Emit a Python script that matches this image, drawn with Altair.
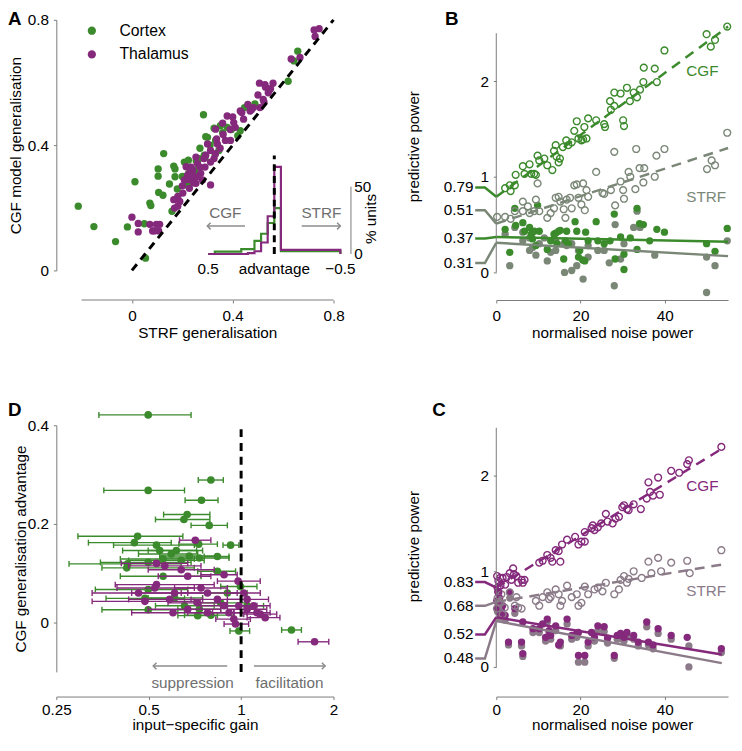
import altair as alt
import pandas as pd

FONT = "Liberation Sans"
GREEN = "#3b8a2c"
PURPLE = "#84297b"
GRAY_B = "#7a8777"
GRAY_C = "#8b7b89"
AXIS = "#7a7a7a"
NOTE = "#6e6e6e"
ARROW = "#8c8c8c"

# ---------------- Panel A : generalisation (STRF, CGF) ----------------
cortex_pts = [(-0.213, 0.205), (-0.151, 0.140), (-0.065, 0.092), (-0.018, 0.139), (0.054, 0.039),
              (0.049, 0.149), (0.012, 0.283), (0.071, 0.215), (0.075, 0.207), (0.104, 0.324),
              (0.104, 0.301), (0.106, 0.249), (0.123, 0.240), (0.126, 0.373), (0.149, 0.276),
              (0.166, 0.333), (0.171, 0.324), (0.171, 0.299), (0.159, 0.189), (0.284, 0.497),
              (0.208, 0.346), (0.224, 0.352), (0.293, 0.427), (0.326, 0.454), (0.332, 0.415),
              (0.378, 0.457), (0.267, 0.357), (0.287, 0.368), (0.215, 0.273), (0.430, 0.446),
              (0.447, 0.520), (0.488, 0.532), (0.658, 0.700), (0.643, 0.669), (0.620, 0.604),
              (0.351, 0.462), (0.300, 0.425), (0.345, 0.383), (0.250, 0.320), (0.270, 0.390),
              (0.310, 0.400), (0.360, 0.440), (0.395, 0.450), (0.225, 0.310), (0.235, 0.280),
              (0.180, 0.260), (0.200, 0.300), (0.420, 0.430), (0.290, 0.360), (0.255, 0.350),
              (0.330, 0.370)]
thal_pts = [(0.723, 0.768), (0.743, 0.772), (0.727, 0.747), (0.632, 0.675), (0.667, 0.680),
            (0.506, 0.598), (0.528, 0.593), (0.560, 0.598), (0.545, 0.575), (0.541, 0.567),
            (0.524, 0.538), (0.475, 0.514), (0.508, 0.520), (0.430, 0.509), (0.443, 0.483),
            (0.378, 0.493), (0.404, 0.472), (0.410, 0.457), (0.371, 0.415), (0.391, 0.415),
            (0.332, 0.451), (0.336, 0.420), (0.312, 0.383), (0.293, 0.368), (0.254, 0.362),
            (0.326, 0.357), (0.436, 0.504), (0.469, 0.509), (0.521, 0.546), (0.482, 0.520),
            (0.362, 0.434), (0.339, 0.404), (0.300, 0.404), (0.332, 0.373), (0.286, 0.357),
            (0.312, 0.346), (0.260, 0.341), (0.241, 0.320), (0.221, 0.304), (0.247, 0.299),
            (0.208, 0.289), (0.273, 0.310), (0.280, 0.289), (0.312, 0.273), (0.228, 0.262),
            (0.202, 0.247), (0.182, 0.236), (0.166, 0.226), (0.169, 0.199), (0.000, 0.170),
            (0.025, 0.150), (0.025, 0.123), (0.071, 0.147), (0.082, 0.126), (0.110, 0.147),
            (0.106, 0.126), (0.097, 0.147), (0.088, 0.126), (0.182, 0.205), (0.215, 0.331),
            (0.228, 0.310), (0.260, 0.299), (0.254, 0.278), (0.235, 0.330), (0.245, 0.280),
            (0.190, 0.220), (0.200, 0.270), (0.350, 0.390), (0.290, 0.330), (0.270, 0.330),
            (0.390, 0.450), (0.360, 0.470), (0.400, 0.490), (0.460, 0.530), (0.500, 0.560),
            (0.530, 0.585), (0.550, 0.580), (0.225, 0.290), (0.240, 0.305)]

# inset histogram of CGF advantage (% units), bin lower edges
hist_edges = [-0.50, -0.05, 0.00, 0.05, 0.10, 0.15, 0.20, 0.25, 0.30, 0.35, 0.40, 0.45, 0.50]
cortex_pct = [0, 2.0, 34.0, 23.0, 15.0, 9.7, 3.6, 3.6, 1.7, 1.7, 1.7, 1.7, 0]
thal_pct = [0, 3.0, 64.6, 28.0, 8.5, 2.0, 0.6, 0, 0, 0, 0, 0, 0]

# ---------------- Panel B : cortex predictive power ----------------
b_cgf_open = [(2.1, 0.88), (3.2, 0.91), (4.4, 0.91), (3.4, 0.85), (4.6, 1.02), (6.7, 1.03), (6.3, 1.11),
              (7.9, 1.13), (8.3, 1.03), (9.4, 1.02), (9.0, 1.03), (9.8, 1.22), (10.2, 1.17), (11.4, 1.19),
              (12.1, 1.12), (13.3, 1.07), (13.7, 1.27), (14.1, 1.33), (14.3, 1.21), (15.1, 1.19),
              (14.8, 1.15), (15.8, 1.31), (16.6, 1.38), (17.1, 1.33), (17.9, 1.36), (18.5, 1.48),
              (19.1, 1.58), (19.5, 1.40), (20.2, 1.38), (20.6, 1.39), (21.4, 1.40), (20.9, 1.52),
              (21.8, 1.61), (23.7, 1.59), (25.6, 1.55), (25.8, 1.52), (27.0, 1.79), (27.2, 1.70),
              (28.0, 1.74), (28.0, 1.88), (29.5, 1.87), (30.1, 1.59), (30.3, 1.53), (31.0, 1.93),
              (31.7, 1.79), (32.6, 1.88), (33.4, 1.83), (34.1, 1.91), (34.9, 1.99), (35.0, 2.14),
              (37.6, 2.13), (38.1, 1.99), (39.9, 2.32), (49.9, 2.49), (50.9, 2.36), (51.9, 2.43),
              (54.8, 2.57)]
b_strf_open = [(0.2, 0.58), (2.1, 0.58), (3.4, 0.56), (4.4, 0.64), (6.3, 0.74), (6.3, 0.64), (7.5, 0.69),
               (7.9, 0.62), (9.0, 0.64), (9.4, 0.76), (9.8, 0.93), (10.2, 0.64), (12.1, 0.57), (12.9, 0.62),
               (13.7, 0.67), (14.1, 0.78), (14.8, 0.79), (15.2, 0.74), (16.0, 0.66), (16.4, 0.57),
               (16.7, 0.76), (17.5, 0.78), (17.9, 0.67), (18.5, 0.91), (19.1, 0.92), (19.5, 0.78),
               (20.2, 0.71), (20.6, 0.93), (21.0, 0.65), (21.4, 0.86), (21.8, 0.79), (23.7, 1.05),
               (25.2, 0.83), (25.6, 0.82), (27.2, 0.86), (28.0, 1.26), (28.2, 0.70), (29.5, 0.95),
               (30.1, 0.86), (30.3, 0.77), (31.4, 1.05), (31.8, 1.00), (33.0, 0.87), (33.2, 1.29),
               (34.0, 1.09), (34.9, 0.94), (35.1, 1.09), (37.6, 1.00), (38.0, 1.22), (39.9, 1.29),
               (50.0, 1.08), (51.1, 1.17), (51.9, 1.12), (54.8, 1.46)]
b_cgf_fill = [(2.1, 0.45), (3.2, 0.21), (4.4, 0.67), (4.6, 0.49), (6.3, 0.52), (6.7, 0.43), (7.9, 0.47),
              (8.3, 0.40), (8.6, 0.35), (9.0, 0.43), (9.4, 0.28), (9.8, 0.70), (10.2, 0.43), (12.1, 0.24),
              (12.9, 0.33), (13.7, 0.40), (14.1, 0.41), (14.4, 0.30), (14.8, 0.43), (15.2, 0.44),
              (16.0, 0.14), (16.4, 0.33), (16.7, 0.43), (17.1, 0.30), (18.7, 0.53), (19.1, 0.43),
              (19.5, 0.16), (19.8, 0.23), (20.5, 0.13), (21.0, 0.12), (21.2, 0.42), (21.8, 0.33),
              (23.7, 0.53), (24.1, 0.33), (25.6, 0.30), (27.0, 0.33), (28.0, 0.61), (28.2, 0.14),
              (29.5, 0.37), (30.3, 0.03), (30.3, 0.19), (31.8, 0.36), (33.4, 0.67), (33.4, 0.24),
              (34.0, 0.51), (34.9, 0.50), (36.4, 0.33), (38.1, 0.45), (39.9, 0.42), (49.9, 0.30),
              (51.9, 0.22), (54.8, 0.46)]
b_strf_fill = [(3.2, 0.07), (6.3, 0.42), (7.9, 0.23), (9.4, 0.18), (11.4, 0.36), (12.1, 0.12), (12.9, 0.21),
               (14.1, 0.33), (16.2, 0.00), (16.7, 0.28), (17.9, 0.02), (19.1, 0.07), (19.5, 0.23),
               (20.6, -0.07), (21.8, 0.28), (24.1, 0.23), (25.6, 0.23), (26.8, 0.10), (28.0, -0.14),
               (28.2, 0.50), (29.5, 0.14), (30.3, 0.30), (32.6, 0.47), (33.4, 0.64), (34.1, 0.47),
               (37.6, 0.18), (49.9, 0.16), (51.9, 0.07), (49.9, -0.21), (54.8, 0.33), (2.1, 0.40),
               (4.4, 0.47), (7.9, 0.36), (14.1, 0.23), (17.9, 0.30), (21.8, 0.16), (10.2, 0.30),
               (6.3, 0.33), (8.6, 0.26), (16.0, 0.30)]
# fits: (x0, y0, x1, y1)
b_fit_cgf_dash = (0, 0.79, 55, 2.57)
b_fit_strf_dash = (0, 0.51, 55, 1.30)
b_fit_cgf_solid = (0, 0.37, 55, 0.32)
b_fit_strf_solid = (0, 0.31, 55, 0.17)
b_intercepts = ["0.79", "0.51", "0.37", "0.31"]
b_intercept_vals = [0.79, 0.51, 0.37, 0.31]
b_label_y = [0.887, 0.65, 0.354, 0.098]

# ---------------- Panel C : thalamus predictive power ----------------
c_cgf_open = [(0.2, 0.95), (0.5, 0.90), (0.9, 0.93), (2.1, 0.86), (3.2, 0.98), (4.0, 1.03), (3.6, 0.91),
              (4.8, 0.95), (5.2, 0.88), (6.0, 0.91), (6.7, 0.91), (6.3, 0.88), (0.3, 0.83), (0.5, 0.78),
              (1.0, 0.85), (1.5, 0.93), (2.5, 0.94), (4.2, 0.97), (10.2, 1.09), (11.0, 1.11), (12.1, 1.17),
              (12.9, 1.14), (13.3, 1.10), (14.1, 1.22), (14.8, 1.21), (15.2, 1.10), (15.6, 1.28),
              (16.8, 1.33), (18.7, 1.36), (19.5, 1.28), (20.2, 1.31), (21.0, 1.31), (21.0, 1.41),
              (22.6, 1.45), (22.9, 1.48), (23.3, 1.43), (24.1, 1.46), (24.9, 1.50), (26.0, 1.60),
              (26.4, 1.52), (27.6, 1.50), (28.3, 1.55), (29.1, 1.57), (29.9, 1.67), (30.3, 1.69),
              (31.0, 1.65), (31.4, 1.64), (32.6, 1.70), (34.3, 1.65), (35.7, 1.76), (36.1, 1.93),
              (36.5, 1.83), (37.2, 1.79), (38.4, 1.98), (38.8, 1.80), (41.5, 2.05), (43.4, 2.03),
              (45.3, 2.12), (45.7, 2.16), (53.4, 2.30)]
c_strf_open = [(0.15, 0.61), (0.9, 0.67), (3.2, 0.78), (4.4, 0.64), (5.2, 0.62), (6.0, 0.61), (10.2, 0.64),
               (11.0, 0.73), (12.1, 0.78), (12.9, 0.73), (14.1, 0.81), (14.8, 0.76), (15.2, 0.64),
               (15.6, 0.69), (16.8, 0.85), (19.1, 0.76), (19.5, 0.64), (20.2, 0.67), (21.0, 0.84),
               (23.3, 0.81), (24.1, 0.83), (25.2, 0.79), (26.0, 0.88), (28.0, 0.76), (29.1, 0.81),
               (29.5, 0.91), (30.3, 0.95), (31.0, 0.88), (31.4, 0.92), (32.6, 1.00), (34.5, 0.93),
               (36.1, 1.10), (36.8, 0.98), (38.4, 1.14), (39.1, 1.00), (41.5, 1.09), (45.3, 1.11),
               (45.9, 0.98), (53.4, 1.22), (21.8, 0.76), (17.9, 0.73), (12.5, 0.71), (9.4, 0.69),
               (0.3, 0.72), (0.6, 0.68), (1.2, 0.76), (2.0, 0.62), (1.5, 0.55), (4.8, 0.73)]
c_cgf_fill = [(0.1, 0.69), (0.9, 0.57), (2.1, 0.54), (3.2, 0.78), (4.4, 0.61), (2.9, 0.26), (6.0, 0.26),
              (6.3, 0.14), (10.2, 0.40), (11.0, 0.45), (12.1, 0.50), (12.5, 0.38), (12.9, 0.33),
              (14.1, 0.43), (15.2, 0.26), (16.8, 0.50), (19.1, 0.35), (19.5, 0.12), (21.0, 0.12),
              (21.8, 0.26), (23.3, 0.31), (24.1, 0.43), (25.6, 0.42), (26.4, 0.30), (28.0, 0.12),
              (28.7, 0.33), (29.5, 0.35), (30.3, 0.31), (31.0, 0.36), (32.6, 0.33), (35.7, 0.47),
              (36.1, 0.26), (37.2, 0.23), (38.4, 0.40), (41.5, 0.33), (45.3, 0.31), (53.4, 0.19),
              (19.5, 0.36), (22.6, 0.36), (14.8, 0.23), (6.3, 0.47), (8.7, 0.40), (11.7, 0.31),
              (17.9, 0.33), (33.7, 0.26), (0.3, 0.62), (0.5, 0.66), (0.8, 0.72), (1.2, 0.60),
              (1.5, 0.64), (0.4, 0.79)]
c_strf_fill = [(2.9, 0.23), (6.3, 0.11), (10.2, 0.36), (19.5, 0.05), (21.0, 0.05), (28.0, 0.09), (45.7, 0.00),
               (45.7, 0.22), (36.1, 0.23), (14.1, 0.38), (24.1, 0.38), (29.5, 0.30), (12.1, 0.47),
               (0.9, 0.52), (2.1, 0.49), (3.2, 0.72), (6.0, 0.22), (12.5, 0.34), (12.9, 0.29), (15.2, 0.22),
               (16.8, 0.45), (19.1, 0.31), (21.8, 0.22), (23.3, 0.27), (25.6, 0.37), (26.4, 0.25),
               (28.7, 0.29), (30.3, 0.27), (31.0, 0.32), (32.6, 0.29), (35.7, 0.42), (37.2, 0.19),
               (38.4, 0.35), (41.5, 0.29), (53.4, 0.15), (8.7, 0.36), (11.7, 0.27), (17.9, 0.29),
               (33.7, 0.22), (0.3, 0.58), (0.5, 0.62), (1.2, 0.55), (4.4, 0.56)]
c_fit_cgf_dash = (0, 0.83, 53.5, 2.28)
c_fit_strf_dash = (0, 0.68, 53.5, 1.07)
c_fit_cgf_solid = (0, 0.52, 53.5, 0.13)
c_fit_strf_solid = (0, 0.48, 53.5, 0.04)
c_intercepts = ["0.83", "0.68", "0.52", "0.48"]
c_intercept_vals = [0.83, 0.68, 0.52, 0.48]
c_label_y = [0.887, 0.639, 0.34, 0.088]

# ---------------- Panel D : gain vs CGF advantage ----------------
# (gain, gain_low, gain_high, advantage)
d_cortex = [(0.498, 0.344, 0.687, 0.421), (0.797, 0.725, 0.875, 0.289), (0.498, 0.357, 0.654, 0.268),
            (0.743, 0.657, 0.841, 0.248), (0.667, 0.559, 0.791, 0.219), (0.651, 0.526, 0.791, 0.209),
            (0.787, 0.687, 0.902, 0.197), (0.460, 0.294, 0.646, 0.175), (0.449, 0.318, 0.592, 0.162),
            (0.727, 0.627, 0.837, 0.159), (0.924, 0.873, 0.983, 0.157), (0.530, 0.384, 0.704, 0.157),
            (0.543, 0.411, 0.716, 0.146), (0.615, 0.498, 0.749, 0.146), (0.592, 0.463, 0.722, 0.139),
            (0.837, 0.758, 0.913, 0.134), (0.731, 0.550, 0.913, 0.131), (0.678, 0.543, 0.827, 0.135),
            (0.557, 0.404, 0.704, 0.129), (0.638, 0.430, 0.758, 0.126), (0.427, 0.275, 0.638, 0.119),
            (0.498, 0.348, 0.687, 0.122), (0.424, 0.352, 0.704, 0.111), (0.837, 0.722, 0.959, 0.104),
            (0.557, 0.404, 0.740, 0.094), (0.498, 0.335, 0.670, 0.067), (0.486, 0.363, 0.654, 0.049),
            (0.654, 0.526, 0.817, 0.034), (0.498, 0.352, 0.654, 0.026), (0.722, 0.622, 0.837, 0.014),
            (0.797, 0.654, 0.947, 0.015), (0.983, 0.920, 1.066, -0.017), (1.459, 1.355, 1.572, -0.015),
            (0.902, 0.777, 1.046, 0.060), (0.858, 0.704, 1.046, 0.040), (0.995, 0.858, 1.126, 0.073),
            (1.046, 0.902, 1.183, 0.034), (0.731, 0.622, 0.858, 0.027), (0.607, 0.498, 0.749, 0.050)]
d_thal = [(0.709, 0.630, 0.797, 0.167), (1.735, 1.533, 1.930, -0.039), (0.978, 0.837, 1.154, 0.084),
          (0.880, 0.740, 0.971, 0.097), (0.530, 0.407, 0.670, 0.120), (0.564, 0.430, 0.740, 0.115),
          (0.638, 0.498, 0.817, 0.107), (0.670, 0.537, 0.797, 0.094), (0.530, 0.389, 0.817, 0.077),
          (0.463, 0.327, 0.670, 0.060), (0.523, 0.394, 0.704, 0.070), (0.585, 0.430, 0.749, 0.047),
          (0.600, 0.440, 0.807, 0.020), (0.777, 0.638, 0.971, 0.060), (0.837, 0.687, 0.995, 0.047),
          (0.983, 0.858, 1.126, 0.034), (1.046, 0.902, 1.212, 0.027), (1.198, 1.046, 1.338, 0.010),
          (0.959, 0.880, 1.058, -0.003), (0.947, 0.827, 1.072, 0.007), (1.126, 0.947, 1.243, 0.020),
          (1.046, 0.902, 1.228, 0.047), (0.913, 0.777, 1.046, 0.020), (0.722, 0.578, 0.902, 0.040),
          (0.486, 0.327, 0.704, 0.043), (0.670, 0.498, 0.858, 0.027), (0.777, 0.670, 0.947, 0.020),
          (1.098, 0.971, 1.243, 0.034), (1.154, 1.020, 1.306, 0.017), (0.880, 0.740, 1.046, 0.034),
          (0.607, 0.440, 0.777, 0.060), (0.740, 0.607, 0.902, 0.070), (1.020, 0.902, 1.154, 0.060)]


# ======================= helpers =======================
# every layer of a panel gets the same axis objects (so the shared axes merge cleanly)
def xy(xs, ys, ax, xf="x", yf="y"):
    return dict(x=alt.X(f"{xf}:Q", scale=xs, axis=ax[0]), y=alt.Y(f"{yf}:Q", scale=ys, axis=ax[1]))


def scatter(pts, xs, ys, ax, color, filled, size=50):
    df = pd.DataFrame({"x": [p[0] for p in pts], "y": [p[1] for p in pts]})
    if filled:
        m = alt.Chart(df).mark_circle(size=size, color=color, opacity=1)
    else:
        m = alt.Chart(df).mark_point(size=size, color=color, filled=False, strokeWidth=1.4, opacity=1)
    return m.encode(**xy(xs, ys, ax))


def seg(fit, xs, ys, ax, color, dash=None, width=2.5):
    df = pd.DataFrame({"x": [fit[0], fit[2]], "y": [fit[1], fit[3]]})
    kw = dict(color=color, strokeWidth=width)
    if dash:
        kw["strokeDash"] = dash
    return alt.Chart(df).mark_line(**kw).encode(**xy(xs, ys, ax))


def label(xv, yv, text, xs, ys, ax, **kw):
    df = pd.DataFrame({"x": [xv], "y": [yv], "t": [text]})
    opts = dict(font=FONT, fontSize=16, color="black")
    opts.update(kw)
    return alt.Chart(df).mark_text(**opts).encode(text="t:N", **xy(xs, ys, ax))


def vrule(xv, y0, y1, xs, ys, ax, color, width=1, dash=None):
    df = pd.DataFrame({"x": [xv], "y": [y0], "y2": [y1]})
    kw = dict(color=color, strokeWidth=width)
    if dash:
        kw["strokeDash"] = dash
    return alt.Chart(df).mark_rule(**kw).encode(y2="y2:Q", **xy(xs, ys, ax))


def hrule(x0, x1, yv, xs, ys, ax, color, width=1.5):
    df = pd.DataFrame({"x": [x0], "x2": [x1], "y": [yv]})
    return alt.Chart(df).mark_rule(color=color, strokeWidth=width).encode(x2="x2:Q", **xy(xs, ys, ax))


def connector(lab, val, ly, color, xs, ys, ax):
    df = pd.DataFrame({"x": [-5.0, -2.7, 0.0], "y": [ly, ly, val]})
    line = alt.Chart(df).mark_line(color=color, strokeWidth=2.5).encode(**xy(xs, ys, ax))
    txt = label(-5.4, ly, lab, xs, ys, ax, align="right", baseline="middle", fontSize=15.5)
    return [line, txt]


def arrow(x_from, x_to, yv, xs, ys, ax, pointing, color=ARROW, size=45):
    shaft = hrule(x_from, x_to, yv, xs, ys, ax, color)
    shape = "M 1 -1 L 0 0 L 1 1" if pointing == "left" else "M -1 -1 L 0 0 L -1 1"
    hd = pd.DataFrame({"x": [x_to], "y": [yv]})
    head = alt.Chart(hd).mark_point(shape=shape, filled=False, size=size, strokeWidth=1.5,
                                    color=color, opacity=1).encode(**xy(xs, ys, ax))
    return [shaft, head]


LETTER = dict(align="left", baseline="alphabetic", fontSize=19, fontWeight="bold")

# ======================= Panel A =======================
xA = alt.Scale(domain=[-0.3, 0.8], nice=False, zero=False)
yA = alt.Scale(domain=[0, 0.8], nice=False, zero=False)
axA = (alt.Axis(values=[0, 0.4, 0.8], format="~g", domain=False, offset=30,
                title="STRF generalisation", titleX=153, labelPadding=6),
       alt.Axis(values=[0, 0.4, 0.8], format="~g", title="CGF model generalisation", titleX=-33))
dfA = pd.DataFrame({
    "x": [p[0] for p in cortex_pts] + [p[0] for p in thal_pts],
    "y": [p[1] for p in cortex_pts] + [p[1] for p in thal_pts],
    "group": ["Cortex"] * len(cortex_pts) + ["Thalamus"] * len(thal_pts),
})
a_points = alt.Chart(dfA).mark_circle(size=55, opacity=1).encode(
    color=alt.Color("group:N", scale=alt.Scale(domain=["Cortex", "Thalamus"], range=[GREEN, PURPLE]),
                    legend=alt.Legend(title=None, orient="none", legendX=28, legendY=3, symbolType="circle",
                                      symbolSize=70, labelFontSize=16, labelFont=FONT, labelOffset=20,
                                      rowPadding=8, symbolStrokeWidth=0, symbolOpacity=1)),
    **xy(xA, yA, axA))
a_diag = alt.Chart(pd.DataFrame({"x": [0, 0.8], "y": [0, 0.8]})).mark_line(
    color="black", strokeWidth=3, strokeDash=[8, 6]).encode(**xy(xA, yA, axA))
a_xaxis = hrule(-0.2, 0.8, -0.0945, xA, yA, axA, AXIS, width=1)
a_letter = label(-0.4918, 0.7843, "A", xA, yA, axA, **LETTER)
a_main = alt.layer(a_points, a_diag, a_xaxis, a_letter)

xI = alt.Scale(domain=[-0.448, 1.649], reverse=True, nice=False, zero=False)
yI = alt.Scale(domain=[-12.2, 173.7], nice=False, zero=False)
axI = (None, None)
hist_df_c = pd.DataFrame({"x": hist_edges, "y": cortex_pct})
hist_df_t = pd.DataFrame({"x": hist_edges, "y": thal_pct})
inset_layers = [
    alt.Chart(hist_df_c).mark_line(interpolate="step-after", color=GREEN, strokeWidth=2.2).encode(**xy(xI, yI, axI)),
    alt.Chart(hist_df_t).mark_line(interpolate="step-after", color=PURPLE, strokeWidth=2.2).encode(**xy(xI, yI, axI)),
    vrule(0, 0, 73, xI, yI, axI, "black", width=3, dash=[7, 5]),
    vrule(-0.58, 0, 50, xI, yI, axI, AXIS, width=1),
    label(0.371, 30.5, "CGF", xI, yI, axI, color=NOTE, baseline="middle", fontSize=15.5),
    label(-0.356, 30.5, "STRF", xI, yI, axI, color=NOTE, baseline="middle", fontSize=15.5),
    label(0.5, -11, "0.5", xI, yI, axI, baseline="middle", fontSize=15.5),
    label(-0.5, -11, "\u22120.5", xI, yI, axI, baseline="middle", fontSize=15.5),
    label(0.0, -11, "advantage", xI, yI, axI, baseline="middle", fontSize=15.5),
    label(-0.604, 50, "50", xI, yI, axI, align="left", baseline="middle", fontSize=15.5),
    label(-0.604, 0, "0", xI, yI, axI, align="left", baseline="middle", fontSize=15.5),
    label(-0.73, 26, "% units", xI, yI, axI, angle=270, baseline="middle", fontSize=15.5),
]
inset_layers += arrow(0.222, 0.507, 20.7, xI, yI, axI, "left")
inset_layers += arrow(-0.207, -0.5, 20.7, xI, yI, axI, "right")
a_inset = alt.layer(*inset_layers)

panelA = alt.layer(a_main, a_inset).resolve_scale(x="independent", y="independent").properties(
    width=281, height=254)

B_W = 235


# ======================= Panels B and C =======================
def power_panel(letter, letter_xy, ydom, height, open_strf, open_cgf, fill_strf, fill_cgf,
                col_main, col_gray, fits, intercepts, ivals, label_ys, cgf_lab_y, strf_lab_y, xoff,
                bottom_row=False):
    xs = alt.Scale(domain=[0, 55], nice=False, zero=False)
    ys = alt.Scale(domain=[0, ydom], nice=False, zero=False)
    xkw = dict(values=[0, 20, 40], offset=xoff, title="normalised noise power", labelPadding=6)
    if bottom_row:
        xkw.update(labelPadding=3, titlePadding=0)
    ax = (alt.Axis(**xkw),
          alt.Axis(values=[0, 1, 2], domain=False, title="predictive power", titleX=-76))
    layers = [
        scatter(fill_strf, xs, ys, ax, col_gray, True, 55),
        scatter(fill_cgf, xs, ys, ax, col_main, True, 55),
        scatter(open_strf, xs, ys, ax, col_gray, False, 48),
        scatter(open_cgf, xs, ys, ax, col_main, False, 48),
        seg(fits[0], xs, ys, ax, col_main, dash=[10, 7]),
        seg(fits[1], xs, ys, ax, col_gray, dash=[10, 7]),
        seg(fits[2], xs, ys, ax, col_main),
        seg(fits[3], xs, ys, ax, col_gray),
        vrule(0, 0, 2.5, xs, ys, ax, AXIS, width=1),
        label(48.9, cgf_lab_y, "CGF", xs, ys, ax, color=col_main, baseline="middle", fontSize=15.5),
        label(49.8, strf_lab_y, "STRF", xs, ys, ax, color=col_gray, baseline="middle", fontSize=15.5),
        label(letter_xy[0], letter_xy[1], letter, xs, ys, ax, **LETTER),
    ]
    cols = [col_main, col_gray, col_main, col_gray]
    for lab, v, ly, c in zip(intercepts, ivals, label_ys, cols):
        layers += connector(lab, v, ly, c, xs, ys, ax)
    return alt.layer(*layers).properties(width=B_W, height=height)


panelB = power_panel("B", (-12.17, 2.588), 2.64, 256, b_strf_open, b_cgf_open, b_strf_fill, b_cgf_fill,
                     GREEN, GRAY_B, [b_fit_cgf_dash, b_fit_strf_dash, b_fit_cgf_solid, b_fit_strf_solid],
                     b_intercepts, b_intercept_vals, b_label_y, 2.1, 0.79, 28)
panelC = power_panel("C", (-15.21, 2.619), 2.526, 245, c_strf_open, c_cgf_open, c_strf_fill, c_cgf_fill,
                     PURPLE, GRAY_C, [c_fit_cgf_dash, c_fit_strf_dash, c_fit_cgf_solid, c_fit_strf_solid],
                     c_intercepts, c_intercept_vals, c_label_y, 1.887, 0.794, 30, bottom_row=True)

# ======================= Panel D =======================
xD = alt.Scale(type="log", base=2, domain=[0.25, 2], nice=False)
yD = alt.Scale(domain=[-0.1, 0.4], nice=False, zero=False)
axD = (alt.Axis(values=[0.25, 0.5, 1, 2], format="~g", offset=25, title="input\u2212specific gain",
                labelPadding=3, titlePadding=0),
       alt.Axis(values=[0, 0.2, 0.4], format="~g", title="CGF generalisation advantage", titleX=-28))


def gain_layers(rows, color):
    df = pd.DataFrame({"x": [r[0] for r in rows], "lo": [r[1] for r in rows],
                       "x2": [r[2] for r in rows], "y": [r[3] for r in rows]})
    caps = pd.DataFrame({"x": [r[1] for r in rows] + [r[2] for r in rows],
                         "y": [r[3] for r in rows] * 2})
    bars = alt.Chart(df).mark_rule(color=color, strokeWidth=1.4).encode(
        x2="x2:Q", **xy(xD, yD, axD, xf="lo"))
    ticks = alt.Chart(caps).mark_tick(orient="vertical", color=color, size=6, thickness=1.4, opacity=1).encode(
        **xy(xD, yD, axD))
    dots = alt.Chart(df).mark_circle(color=color, size=60, opacity=1).encode(**xy(xD, yD, axD))
    return [bars, ticks, dots]


d_layers = gain_layers(d_cortex, GREEN) + gain_layers(d_thal, PURPLE)
d_layers.append(vrule(1.0, -0.1, 0.4, xD, yD, axD, "black", width=3, dash=[8, 6]))
d_layers += arrow(0.901, 0.517, -0.088, xD, yD, axD, "left")
d_layers += arrow(1.101, 1.878, -0.088, xD, yD, axD, "right")
d_layers += [
    label(0.695, -0.122, "suppression", xD, yD, axD, color=NOTE, baseline="middle", fontSize=15.5),
    label(1.438, -0.122, "facilitation", xD, yD, axD, color=NOTE, baseline="middle", fontSize=15.5),
    label(0.174, 0.418, "D", xD, yD, axD, **LETTER),
]
panelD = alt.layer(*d_layers).properties(width=281, height=250)

# ======================= assemble =======================
chart = alt.concat(
    panelA, panelB, panelD, panelC, columns=2, spacing={"row": 155, "column": 165},
    bounds="flush", align="each", padding={"top": -4, "left": 0, "right": 0, "bottom": 0}
).configure(font=FONT).configure_view(stroke=None).configure_axis(
    labelFont=FONT, titleFont=FONT, labelFontSize=15.5, titleFontSize=15.5, titleFontWeight="normal",
    labelColor="black", titleColor="black", domainColor=AXIS, tickColor=AXIS, domainWidth=1, tickWidth=1,
    tickSize=3, labelPadding=5, titlePadding=2, grid=False, labelFlush=False
)

chart.save("out.html", embed_options={"renderer": "svg", "actions": False})
